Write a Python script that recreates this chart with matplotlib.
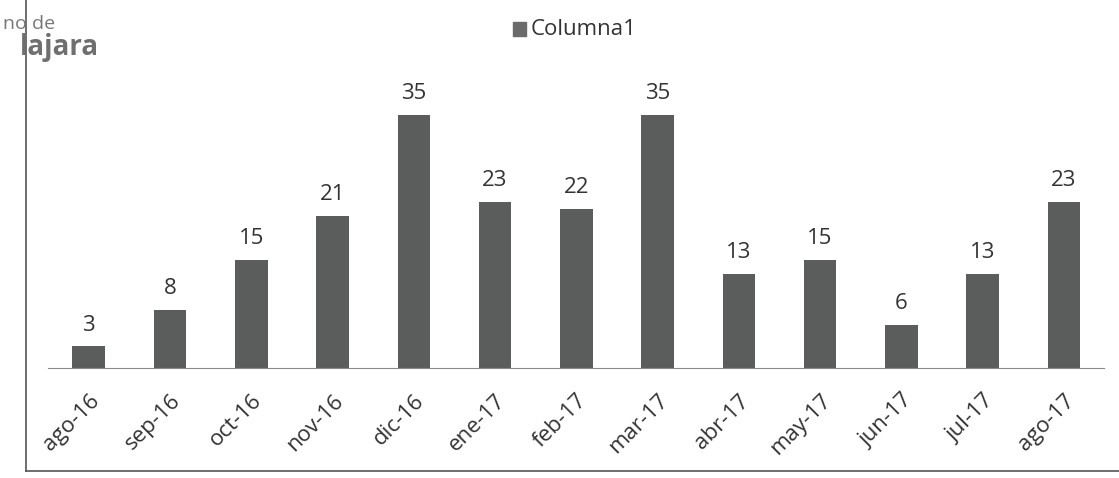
import matplotlib
matplotlib.use("Agg")
import matplotlib.pyplot as plt
from matplotlib.patches import Rectangle
from matplotlib.lines import Line2D

# monthly values
months = ["ago-16", "sep-16", "oct-16", "nov-16", "dic-16", "ene-17", "feb-17",
          "mar-17", "abr-17", "may-17", "jun-17", "jul-17", "ago-17"]
values = [3, 8, 15, 21, 35, 23, 22, 35, 13, 15, 6, 13, 23]
series_name = "Columna1"

plt.rcParams["font.family"] = ["Open Sans", "DejaVu Sans"]
bar_color = "#5b5d5c"
text_color = "#333333"

fig = plt.figure(figsize=(11.19, 4.78), dpi=100)
ax = fig.add_axes([0.043, 0.23, 0.944, 0.605])

x = list(range(len(months)))
ax.bar(x, values, width=0.4, color=bar_color)
for xi, v in zip(x, values):
    ax.text(xi, v + 1.5, str(v), ha="center", va="bottom", fontsize=16, color=text_color)

ax.set_xlim(-0.5, len(months) - 0.5)
ax.set_ylim(0, 40)
ax.set_xticks(x)
ax.set_xticklabels(months, rotation=45, ha="right", rotation_mode="anchor",
                   fontsize=16, color=text_color)
ax.tick_params(axis="x", length=0, pad=16)
ax.set_yticks([])
for side in ["top", "right", "left"]:
    ax.spines[side].set_visible(False)
ax.spines["bottom"].set_color("#888888")

# legend at top centre
fig.patches.append(Rectangle((0.458, 0.925), 0.012, 0.028, transform=fig.transFigure,
                             color="#6a6a6a"))
fig.text(0.474, 0.938, series_name, fontsize=16, color=text_color, va="center")

# frame of the scanned page and logo text
fig.add_artist(Line2D([0.023, 0.023], [0.015, 1.0], transform=fig.transFigure,
                      color="#555555", lw=1.2))
fig.add_artist(Line2D([0.023, 1.0], [0.015, 0.015], transform=fig.transFigure,
                      color="#555555", lw=1.2))
fig.text(0.003, 0.95, "no de", fontsize=14, color="#777777", va="center")
fig.text(0.018, 0.9, "lajara", fontsize=20, fontweight="bold", color="#6f6f6f", va="center")

fig.savefig("out.png", dpi=100)
